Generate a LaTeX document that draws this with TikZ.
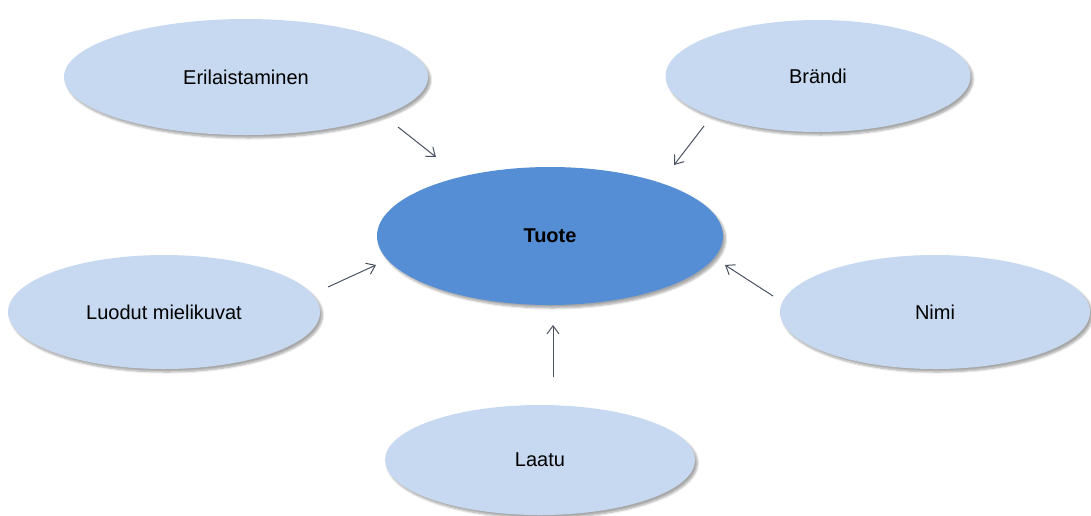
\documentclass[tikz,border=0pt]{standalone}
\usepackage{fontspec}
\setmainfont{Liberation Sans}
\usetikzlibrary{arrows.meta,shapes.geometric,shadows.blur}
\definecolor{lightfill}{HTML}{C6D9F0}
\definecolor{darkfill}{HTML}{558ED5}
\definecolor{arrowgray}{HTML}{4A5260}
\tikzset{
  bubble/.style={ellipse, fill=lightfill, inner sep=0pt,
    blur shadow={shadow xshift=2.5pt, shadow yshift=-3pt, shadow blur steps=6, shadow opacity=35},
    font=\fontsize{20}{24}\selectfont},
  centre/.style={bubble, fill=darkfill, font=\fontsize{20}{24}\selectfont\bfseries},
  link/.style={draw=arrowgray, line width=1pt, -{Straight Barb[length=8pt,width=12pt]}}
}
\begin{document}
\begin{tikzpicture}[x=1pt,y=-1pt]
  \useasboundingbox (0,0) rectangle (1091,515);
  % outer ideas
  \node[bubble, minimum width=364pt, minimum height=116pt] (eri) at (246,77) {Erilaistaminen};
  \node[bubble, minimum width=305pt, minimum height=112pt] (bra) at (818,76) {Brändi};
  \node[bubble, minimum width=312pt, minimum height=114pt] (luo) at (164,312) {Luodut mielikuvat};
  \node[bubble, minimum width=310pt, minimum height=114pt] (nim) at (935,312) {Nimi};
  \node[bubble, minimum width=310pt, minimum height=110pt] (laa) at (540,460) {Laatu};
  % product in the middle
  \node[centre, minimum width=346pt, minimum height=138pt] (tuo) at (550,236) {Tuote};
  % free-standing arrows pointing inwards
  \coordinate (a1s) at (398,127); \coordinate (a1e) at (436,157);
  \coordinate (a2s) at (704,126); \coordinate (a2e) at (674,165);
  \coordinate (a3s) at (328,287); \coordinate (a3e) at (376,265);
  \coordinate (a4s) at (773,296); \coordinate (a4e) at (725,265);
  \coordinate (a5s) at (553,377); \coordinate (a5e) at (553,325);
  \draw[link] (a1s) -- (a1e);
  \draw[link] (a2s) -- (a2e);
  \draw[link] (a3s) -- (a3e);
  \draw[link] (a4s) -- (a4e);
  \draw[link] (a5s) -- (a5e);
\end{tikzpicture}
\end{document}
